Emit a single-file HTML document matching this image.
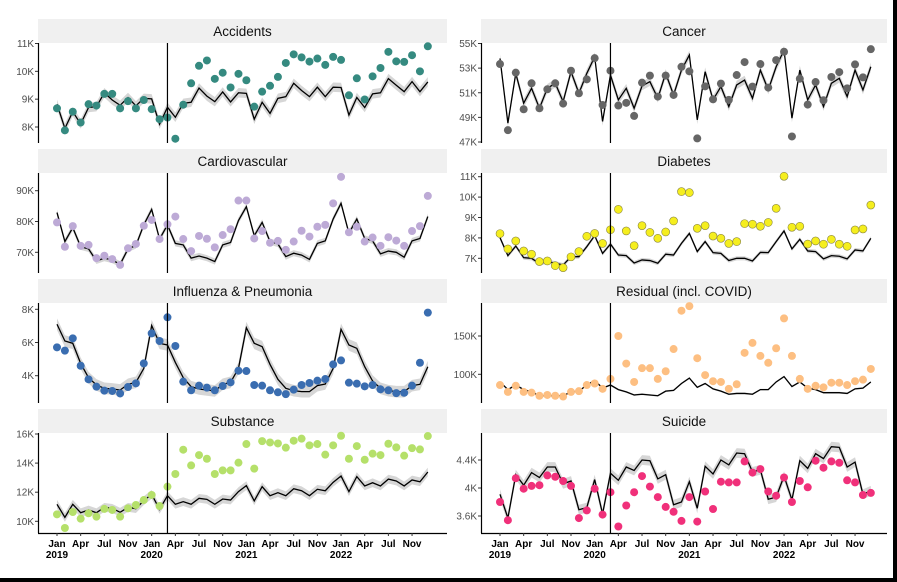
<!DOCTYPE html>
<html><head><meta charset="utf-8"><style>
html,body{margin:0;padding:0;background:#fff;}
svg{display:block;font-family:"Liberation Sans",sans-serif;}
</style></head><body>
<svg id="chart" width="897" height="582" viewBox="0 0 897 582"></svg>
<script>
const months = ["Jan","Apr","Jul","Nov","Jan","Apr","Jul","Nov","Jan","Apr","Jul","Nov","Jan","Apr","Jul","Nov"];
const monthIdx = [0,3,6,9,12,15,18,21,24,27,30,33,36,39,42,45];
const years = ["2019","2020","2021","2022"];
const yearIdx = [0,12,24,36];
const interventionIdx = 14;

const accidentsObs=[8.67,7.88,8.55,8.16,8.82,8.77,9.19,9.19,8.67,8.93,8.67,8.97,8.64,8.28,8.34,7.58,8.8,9.57,10.2,10.39,9.73,9.95,9.42,9.91,9.68,8.73,9.27,9.48,9.8,10.3,10.61,10.5,10.35,10.46,10.23,10.52,10.41,9.14,9.75,8.99,9.82,10.12,10.7,10.36,10.34,10.58,10.0,10.9];
const accidentsExp=[8.82,7.95,8.55,8.11,8.7,8.73,9.23,8.97,8.78,9.06,8.76,9.03,9.01,8.1,8.71,8.35,8.85,8.89,9.4,9.11,8.91,9.26,8.9,9.23,9.21,8.28,8.89,8.49,9.03,9.09,9.57,9.31,9.09,9.43,9.09,9.43,9.42,8.43,9.06,8.7,9.19,9.23,9.74,9.5,9.27,9.63,9.27,9.62];
const cancerObs=[53.33,47.96,52.63,49.66,51.77,49.74,51.28,51.77,50.12,52.79,50.96,52.09,53.81,50.01,52.79,49.96,50.18,49.12,51.82,52.39,50.69,52.39,50.82,53.11,52.74,47.29,51.52,50.47,51.74,50.42,52.44,53.49,51.5,53.33,51.42,53.65,54.33,47.45,52.14,50.04,51.87,50.39,52.28,52.68,51.36,53.3,52.25,54.54];
const cancerExp=[53.79,48.53,52.57,50.15,51.36,49.74,51.36,51.77,50.28,52.71,50.96,52.57,53.92,48.67,52.44,50.42,51.36,49.74,51.55,51.9,50.55,52.57,50.82,52.84,54.06,48.8,52.71,50.42,51.5,49.88,51.63,52.03,50.55,52.84,51.23,53.11,54.46,48.94,52.84,50.42,51.63,49.88,51.77,52.17,50.69,52.84,51.23,53.11];
const cardioObs=[79.7,71.8,78.5,72.1,72.4,68.1,68.9,67.8,65.9,71.3,72.7,78.6,80.5,74.3,79.1,81.6,74.3,70.4,75.3,74.4,71.6,75.6,77.5,86.8,86.8,74.5,76.9,73.1,73.7,70.8,73.5,77.0,75.1,78.3,78.9,85.9,94.5,76.5,78.3,73.5,74.8,72.1,74.9,73.8,72.1,76.9,78.5,88.3];
const cardioExp=[82.9,73.5,78.0,71.8,71.1,67.2,68.1,67.5,66.1,71.1,72.2,78.9,83.9,74.3,78.9,72.9,72.4,68.1,68.8,68.1,67.0,72.4,73.2,80.3,84.8,75.4,79.7,73.5,72.7,68.6,69.7,69.1,67.7,72.9,73.7,80.8,85.9,76.2,80.8,74.5,73.7,69.5,70.4,70.0,68.4,73.7,74.5,81.6];
const diabetesObs=[8.21,7.46,7.85,7.36,7.2,6.84,6.87,6.64,6.54,7.07,7.33,8.08,8.22,7.73,8.4,9.4,8.34,7.62,8.6,8.27,7.98,8.29,8.83,10.27,10.22,8.47,8.6,8.09,7.98,7.73,7.82,8.7,8.67,8.57,8.76,9.45,11.02,8.52,8.57,7.7,7.85,7.69,7.93,7.69,7.59,8.39,8.44,9.61];
const diabetesExp=[8.01,7.13,7.6,7.03,7.0,6.74,6.84,6.76,6.67,7.08,7.08,7.57,8.11,7.24,7.7,7.16,7.13,6.77,6.92,6.89,6.76,7.2,7.16,7.73,8.22,7.33,7.82,7.28,7.24,6.89,7.0,7.0,6.87,7.29,7.28,7.82,8.34,7.46,7.93,7.36,7.33,6.97,7.13,7.1,6.97,7.41,7.36,7.98];
const fluObs=[5.71,5.51,6.25,4.6,3.78,3.34,3.1,3.08,2.93,3.32,3.54,4.74,6.55,6.09,7.52,5.79,3.64,3.12,3.4,3.28,3.12,3.38,3.6,4.3,4.28,3.44,3.4,3.12,3.0,2.89,3.16,3.44,3.56,3.7,3.8,4.68,4.92,3.58,3.52,3.36,3.44,3.18,3.12,2.95,2.97,3.4,4.78,7.8];
const fluExp=[7.1,6.09,5.95,4.74,3.88,3.44,3.24,3.2,3.14,3.48,3.6,4.44,7.02,5.95,5.85,4.8,3.88,3.34,3.2,3.14,3.08,3.48,3.6,4.44,6.89,5.95,5.75,4.68,3.78,3.24,3.1,3.04,3.04,3.4,3.5,4.44,6.79,5.85,5.65,4.54,3.68,3.24,3.1,3.04,3.04,3.4,3.48,4.54];
const residualObs=[86,77,85,77,76,72,73,72,71,77,78,86,88,81,94,150,114,90,108,108,94,104,133,183,189,121,99,91,90,81,87,128,141,124,115,134,173,124,94,81,85,83,89,89,86,91,93,107];
const residualExp=[90,80,86,80,77,72,72,72,72,77,78,86,92,82,86,80,77,73,74,73,72,78,79,88,95,83,88,81,78,74,75,75,74,80,80,90,97,84,90,82,80,76,76,76,75,81,82,90];
const substanceObs=[10.48,9.54,10.64,10.18,10.55,10.32,10.85,10.78,10.32,10.89,11.12,11.46,11.81,11.05,12.38,13.25,14.92,13.84,14.55,14.3,13.25,13.5,13.5,14.03,15.31,13.62,15.51,15.42,15.35,15.06,15.54,15.68,15.22,15.31,14.58,15.22,15.88,14.3,15.17,14.23,14.65,14.55,15.33,15.08,14.51,15.03,14.94,15.86];
const substanceExp=[11.17,10.27,11.17,10.59,10.78,10.59,10.96,10.89,10.62,10.96,10.87,11.42,11.85,10.82,11.76,11.17,11.35,11.17,11.58,11.51,11.17,11.53,11.46,12.04,12.45,11.4,12.38,11.76,11.97,11.76,12.24,12.1,11.76,12.2,12.1,12.68,13.11,12.04,13.07,12.43,12.65,12.43,12.9,12.77,12.43,12.84,12.72,13.39];
const suicideObs=[3.8,3.54,4.14,3.99,4.03,4.04,4.18,4.16,4.1,4.03,3.57,3.68,3.99,3.62,3.94,3.45,3.75,3.94,4.17,4.02,3.87,3.73,3.66,3.53,3.87,3.52,3.95,3.7,4.09,4.08,4.08,4.38,4.22,4.27,3.95,3.89,4.15,3.8,4.1,4.01,4.39,4.29,4.38,4.36,4.11,4.08,3.9,3.93];
const suicideExp=[3.91,3.57,4.19,4.04,4.22,4.15,4.3,4.3,4.06,4.1,3.69,3.72,4.12,3.63,4.21,4.11,4.3,4.25,4.4,4.39,4.13,4.19,3.76,3.8,4.09,3.71,4.31,4.2,4.4,4.33,4.5,4.49,4.23,4.26,3.84,3.87,4.17,3.83,4.39,4.28,4.49,4.42,4.59,4.58,4.3,4.37,3.91,3.96];

const panels=[
 {name:"accidents",title:"Accidents",col:0,row:0,obs:accidentsObs,exp:accidentsExp,band:0.17,ticks:[8,9,10,11],lab:["8K","9K","10K","11K"],v0:8,p0:127,v1:11,p1:43.5,color:"#358a80",stroke:"none"},
 {name:"cancer",title:"Cancer",col:1,row:0,obs:cancerObs,exp:cancerExp,band:0.35,ticks:[47,49,51,53,55],lab:["47K","49K","51K","53K","55K"],v0:47,p0:142,v1:55,p1:43.5,color:"#666666",stroke:"none"},
 {name:"cardiovascular",title:"Cardiovascular",col:0,row:1,obs:cardioObs,exp:cardioExp,band:1.0,ticks:[70,80,90],lab:["70K","80K","90K"],v0:70,p0:252.3,v1:90,p1:190.7,color:"#bdaad6",stroke:"none"},
 {name:"diabetes",title:"Diabetes",col:1,row:1,obs:diabetesObs,exp:diabetesExp,band:0.1,ticks:[7,8,9,10,11],lab:["7K","8K","9K","10K","11K"],v0:7,p0:258.3,v1:11,p1:176.7,color:"#f5ee1e",stroke:"#8a8640"},
 {name:"influenza",title:"Influenza & Pneumonia",col:0,row:2,obs:fluObs,exp:fluExp,band:0.35,ticks:[4,6,8],lab:["4K","6K","8K"],v0:4,p0:375.7,v1:8,p1:309.3,color:"#3a6db0",stroke:"none"},
 {name:"residual",title:"Residual (incl. COVID)",col:1,row:2,obs:residualObs,exp:residualExp,band:1.2,ticks:[100,150],lab:["100K","150K"],v0:100,p0:374.3,v1:150,p1:336,color:"#fdbf82",stroke:"none"},
 {name:"substance",title:"Substance",col:0,row:3,obs:substanceObs,exp:substanceExp,band:0.3,ticks:[10,12,14,16],lab:["10K","12K","14K","16K"],v0:10,p0:521.3,v1:16,p1:434,color:"#b5e06a",stroke:"none"},
 {name:"suicide",title:"Suicide",col:1,row:3,obs:suicideObs,exp:suicideExp,band:0.07,ticks:[3.6,4,4.4],lab:["3.6K","4K","4.4K"],v0:3.6,p0:516,v1:4.4,p1:460,color:"#f0307a",stroke:"none"}
];

const NS="http://www.w3.org/2000/svg";
const svg=document.getElementById("chart");
function mk(tag,attrs,parent){const e=document.createElementNS(NS,tag);for(const k in attrs)e.setAttribute(k,attrs[k]);(parent||svg).appendChild(e);return e;}

const colL=[38,481], colR=[447,887], x0s=[57,500], dx=7.89;
const stripTops=[19,149,279,409];

panels.forEach(p=>{
  const g=mk("g",{});
  
  
  const L=colL[p.col], R=colR[p.col], st=stripTops[p.row];
  const top=st+24, bot=top+100;
  const xs=i=>x0s[p.col]+i*dx;
  const ys=v=>p.p0+(v-p.v0)*(p.p1-p.p0)/(p.v1-p.v0);
  const strip=mk("rect",{x:L,y:st,width:R-L,height:24,fill:"#f0f0f0"},g);
  
  
  const t=mk("text",{x:(L+R)/2,y:st+17,"text-anchor":"middle","font-size":"13.5",fill:"#111"},g);
  t.textContent=p.title;
  
  
  let up=[],lo=[];
  p.exp.forEach((v,i)=>{up.push(xs(i)+","+ys(v+p.band));lo.unshift(xs(i)+","+ys(v-p.band));});
  const band=mk("polygon",{points:up.concat(lo).join(" "),fill:"#d6d6d6"},g);
  
  
  const line=mk("polyline",{points:p.exp.map((v,i)=>xs(i)+","+ys(v)).join(" "),fill:"none",stroke:"#000","stroke-width":"1.3"},g);
  
  
  p.obs.forEach((v,i)=>{
    const c=mk("circle",{cx:xs(i),cy:ys(v),r:4,fill:p.color,stroke:p.stroke,"stroke-width":"0.6"},g);
    
    
  });
  const vl=mk("line",{x1:xs(interventionIdx),x2:xs(interventionIdx),y1:top,y2:bot,stroke:"#000","stroke-width":"1.2"},g);
  
  
  const ax=mk("line",{x1:L+0.5,x2:L+0.5,y1:top,y2:bot,stroke:"#000","stroke-width":"1.2"},g);
  
  
  p.ticks.forEach((v,k)=>{
    mk("line",{x1:L-3,x2:L,y1:ys(v),y2:ys(v),stroke:"#333","stroke-width":"1"},g);
    const tl=mk("text",{x:L-4,y:ys(v)+3.5,"text-anchor":"end","font-size":"10",fill:"#4d4d4d"},g);
    tl.textContent=p.lab[k];
    
    
  });
  if(p.row===3){
    const xa=mk("line",{x1:L,x2:R,y1:bot+0.5,y2:bot+0.5,stroke:"#000","stroke-width":"1.2"},g);
    
    
    monthIdx.forEach((mi,k)=>{
      mk("line",{x1:xs(mi),x2:xs(mi),y1:bot,y2:bot+3,stroke:"#333"},g);
      const ml=mk("text",{x:xs(mi),y:bot+14,"text-anchor":"middle","font-size":"10","font-weight":"bold",fill:"#000"},g);
      ml.textContent=months[k];
      
      
    });
    yearIdx.forEach((yi,k)=>{
      const yl=mk("text",{x:xs(yi),y:bot+25,"text-anchor":"middle","font-size":"10","font-weight":"bold",fill:"#000"},g);
      yl.textContent=years[k];
      
      
    });
  }
});
const br=mk("rect",{x:893,y:0,width:4,height:582,fill:"#000"});


const bb=mk("rect",{x:0,y:578,width:897,height:4,fill:"#000"});


</script>
</body></html>
